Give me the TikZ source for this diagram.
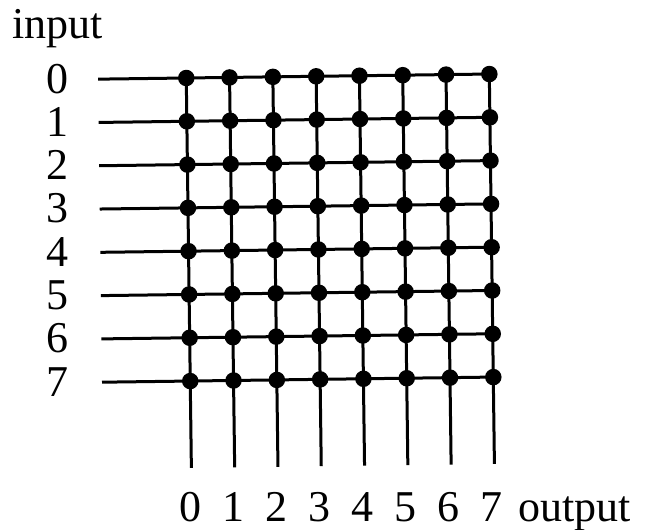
\documentclass[tikz,border=0pt]{standalone}
\usepackage{fontspec}
\setmainfont{Liberation Serif}
\usepackage{tikz}
\usetikzlibrary{positioning}

\tikzset{
	lbl/.style={font=\fontsize{44}{52}\selectfont, inner sep=0pt},
	xdot/.style={circle, fill=black, inner sep=0pt, minimum size=16.5pt},
	wire/.style={line width=3pt}
}

\begin{document}
\begin{tikzpicture}[x=1pt, y=-1pt]
	\useasboundingbox (0, 0) rectangle (659, 530);
	% Labels:
	\node[lbl, anchor=base west](inlbl) at (12, 38){input};
	\foreach \j in {0,...,7}
		\node[lbl, anchor=base](in\j) at (57, 93+43.3*\j){\j};
	\foreach \i in {0,...,7}
		\node[lbl, anchor=base](out\i) at (190.5+43*\i, 521){\i};
	\node[lbl, anchor=base west](outlbl) at (518, 521){output};
	% Crossbar, slightly tilted as in the scan:
	\begin{scope}[rotate around={0.75:(339.75, 227.5)}]
		\foreach \i in {0,...,7}
			\foreach \j in {0,...,7}
				\node[xdot](d\i-\j) at (188.25+43.3*\i, 76+43.3*\j){};
		\foreach \j in {0,...,7}{
			\coordinate (hs\j) at (100, 76+43.3*\j);
			\draw[wire] (hs\j) -- (d7-\j.center);
		}
		\foreach \i in {0,...,7}{
			\coordinate (ve\i) at (188.25+43.3*\i, 466);
			\draw[wire] (d\i-0.center) -- (ve\i);
		}
	\end{scope}
\end{tikzpicture}
\end{document}
